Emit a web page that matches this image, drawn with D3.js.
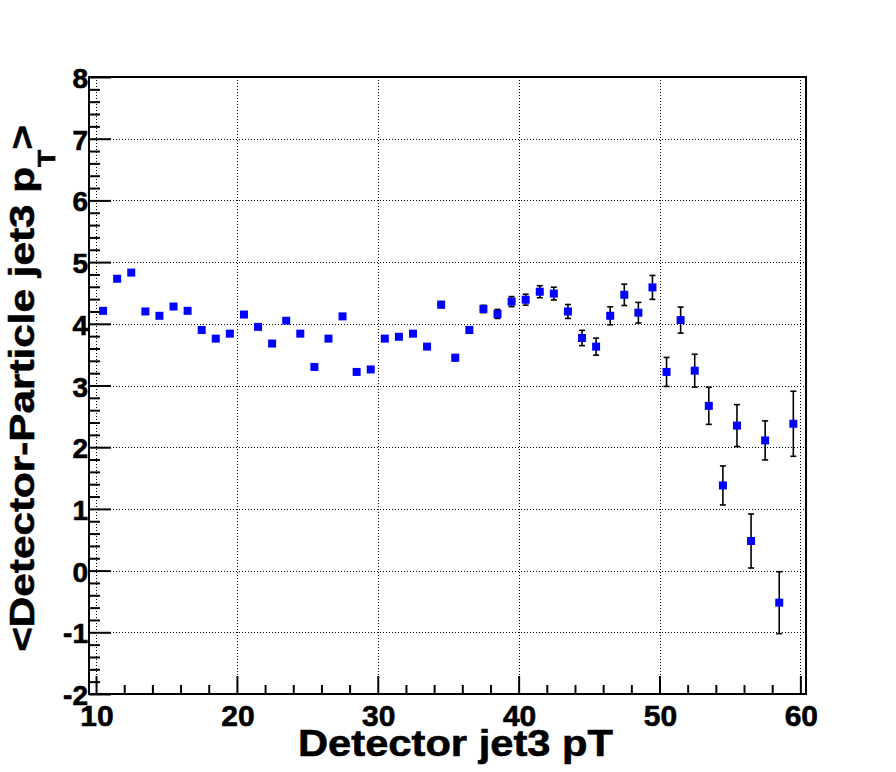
<!DOCTYPE html>
<html>
<head>
<meta charset="utf-8">
<script src="https://cdn.jsdelivr.net/npm/d3@7"></script>
<style>
  body { margin: 0; background: #fff; }
  text { font-family: "Liberation Sans", Arial, sans-serif; font-weight: bold; fill: #000;
         stroke: #000; stroke-width: 0.6px; }
</style>
</head>
<body>
<div id="chart"></div>
<script>
// bin centres (Detector jet3 pT)
var binCenters = [10.5, 11.5, 12.5, 13.5, 14.5, 15.5, 16.5, 17.5, 18.5, 19.5,
                  20.5, 21.5, 22.5, 23.5, 24.5, 25.5, 26.5, 27.5, 28.5, 29.5,
                  30.5, 31.5, 32.5, 33.5, 34.5, 35.5, 36.5, 37.5, 38.5, 39.5,
                  40.5, 41.5, 42.5, 43.5, 44.5, 45.5, 46.5, 47.5, 48.5, 49.5,
                  50.5, 51.5, 52.5, 53.5, 54.5, 55.5, 56.5, 57.5, 58.5, 59.5];
// <Detector-Particle jet3 pT>
var meanDiff = [4.21, 4.73, 4.83, 4.20, 4.13, 4.28, 4.21, 3.90, 3.76, 3.84,
                4.15, 3.95, 3.68, 4.05, 3.84, 3.30, 3.76, 4.12, 3.22, 3.26,
                3.76, 3.79, 3.84, 3.63, 4.31, 3.45, 3.90, 4.24, 4.16, 4.36,
                4.39, 4.52, 4.49, 4.20, 3.77, 3.63, 4.13, 4.47, 4.18, 4.59,
                3.22, 4.06, 3.24, 2.67, 1.38, 2.35, 0.48, 2.11, -0.52, 2.38];
var meanErr  = [0.01, 0.01, 0.01, 0.01, 0.01, 0.01, 0.01, 0.02, 0.02, 0.02,
                0.02, 0.02, 0.02, 0.02, 0.03, 0.03, 0.03, 0.03, 0.03, 0.03,
                0.04, 0.04, 0.04, 0.04, 0.05, 0.05, 0.05, 0.06, 0.073, 0.081,
                0.089, 0.097, 0.103, 0.113, 0.124, 0.138, 0.146, 0.173, 0.167, 0.194,
                0.235, 0.211, 0.267, 0.300, 0.316, 0.340, 0.438, 0.316, 0.502, 0.527];
var xTicks = [10, 20, 30, 40, 50, 60];
var yTicks = [-2, -1, 0, 1, 2, 3, 4, 5, 6, 7, 8];
var xTitle = "Detector jet3 pT";

var width = 896, height = 772;
var fLeft = 89, fRight = 806, fTop = 77, fBottom = 694;

var svg = d3.select('#chart').append('svg')
            .attr('width', width)
            .attr('height', height);

var x = d3.scaleLinear().domain([9.5, 60.4]).range([fLeft, fRight]);
var y = d3.scaleLinear().domain([-2, 8]).range([fBottom, fTop]);

var data = binCenters.map(function(c, i) {
  return {x: c, y: meanDiff[i], e: meanErr[i]};
});

// grid
var grid = svg.append('g')
              .attr('stroke', '#000')
              .attr('stroke-width', 1)
              .attr('stroke-dasharray', '1,2');
grid.selectAll('.gx').data(xTicks).enter().append('line')
    .attr('x1', function(d) { return Math.round(x(d)) + 0.5; })
    .attr('x2', function(d) { return Math.round(x(d)) + 0.5; })
    .attr('y1', fTop).attr('y2', fBottom);
grid.selectAll('.gy').data(yTicks.slice(1, -1)).enter().append('line')
    .attr('y1', function(d) { return Math.round(y(d)) + 0.5; })
    .attr('y2', function(d) { return Math.round(y(d)) + 0.5; })
    .attr('x1', fLeft).attr('x2', fRight);

// axes (ROOT style ticks inside the frame)
var yAxis = d3.axisRight(y).tickValues(d3.range(-2, 8.01, 0.2))
              .tickSize(11).tickFormat('');
svg.append('g').attr('transform', 'translate(' + fLeft + ',0)').call(yAxis)
   .call(function(g) {
     g.select('.domain').remove();
     g.selectAll('.tick line').attr('stroke-width', 2)
      .attr('x2', function(d) { return Math.abs(d - Math.round(d)) < 1e-6 ? 22 : 11; });
   });

var xAxis = d3.axisTop(x).tickValues(d3.range(10, 60.01, 2))
              .tickSize(9).tickFormat('');
svg.append('g').attr('transform', 'translate(0,' + fBottom + ')').call(xAxis)
   .call(function(g) {
     g.select('.domain').remove();
     g.selectAll('.tick line').attr('stroke-width', 2)
      .attr('y2', function(d) { return d % 10 === 0 ? -18 : -9; });
   });

// frame
svg.append('rect')
   .attr('x', fLeft).attr('y', fTop)
   .attr('width', fRight - fLeft).attr('height', fBottom - fTop)
   .attr('fill', 'none').attr('stroke', '#000').attr('stroke-width', 2);

// tick labels
svg.selectAll('.xl').data(xTicks).enter().append('text')
   .attr('x', function(d) { return x(d) + 1; })
   .attr('y', fBottom + 32)
   .attr('text-anchor', 'middle')
   .style('font-size', '30px')
   .text(function(d) { return d; });
svg.selectAll('.yl').data(yTicks).enter().append('text')
   .attr('x', fLeft - 1)
   .attr('y', function(d) { return y(d) + 1; })
   .attr('dy', '0.36em')
   .attr('text-anchor', 'end')
   .style('font-size', '28px')
   .text(function(d) { return d; });

// axis titles, stretched to the width ROOT uses
var xt = svg.append('g');
var xtText = xt.append('text').style('font-size', '36px').text(xTitle);
var xw = xtText.node().getComputedTextLength();
xt.attr('transform', 'translate(298,756) scale(' + (315 / xw) + ',1)');

var yt = svg.append('g');
var ytText = yt.append('text').attr('text-anchor', 'end').style('font-size', '36px');
ytText.append('tspan').text('<Detector-Particle jet3 p');
ytText.append('tspan').attr('dy', 21).style('font-size', '24px').text('T');
ytText.append('tspan').attr('dy', -21).text('>');
var yw = ytText.node().getComputedTextLength();
yt.attr('transform', 'translate(34,125) rotate(-90) scale(' + (527 / yw) + ',1)');

// error bars
var errs = svg.append('g').attr('stroke', '#000').attr('stroke-width', 1.6);
data.forEach(function(d) {
  var cx = x(d.x);
  errs.append('line').attr('x1', cx).attr('x2', cx)
      .attr('y1', y(d.y + d.e)).attr('y2', y(d.y - d.e));
  errs.append('line').attr('x1', cx - 3).attr('x2', cx + 3)
      .attr('y1', y(d.y + d.e)).attr('y2', y(d.y + d.e));
  errs.append('line').attr('x1', cx - 3).attr('x2', cx + 3)
      .attr('y1', y(d.y - d.e)).attr('y2', y(d.y - d.e));
});

// markers
svg.append('g').selectAll('rect').data(data).enter().append('rect')
   .attr('x', function(d) { return x(d.x) - 4; })
   .attr('y', function(d) { return y(d.y) - 4; })
   .attr('width', 8).attr('height', 8)
   .attr('fill', '#0000ff');
</script>
</body>
</html>
